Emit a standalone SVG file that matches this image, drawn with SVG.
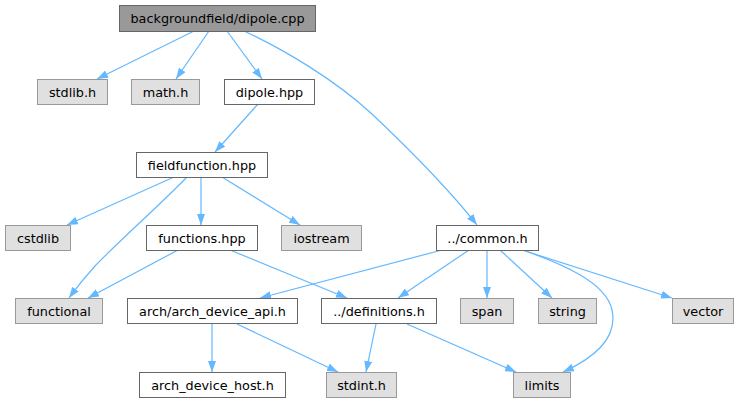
<svg xmlns="http://www.w3.org/2000/svg" width="740" height="403" viewBox="0 0 740 403">
<style>
  .n rect { fill: #ffffff; stroke: #666666; stroke-width: 1; }
  .n.g rect { fill: #e0e0e0; stroke: #999999; }
  .n.r rect { fill: #999999; stroke: #666666; }
  .n text { font-family: "DejaVu Sans", sans-serif; font-size: 12.8px; text-anchor: middle; fill: #000000; }
  #edges path { fill: none; stroke: #63b8ff; stroke-width: 1.2; marker-end: url(#ah); }
</style>
<defs>
  <marker id="ah" markerUnits="userSpaceOnUse" markerWidth="11" markerHeight="8" refX="11" refY="4" orient="auto">
    <path d="M0,0 L11,4 L0,8 z" fill="#63b8ff" stroke="none"/>
  </marker>
</defs>
<rect width="740" height="403" fill="#ffffff"/>
<g id="edges">
  <path d="M194,31 L97,79"/>
  <path d="M209,31 L176,79"/>
  <path d="M227,31 L262,79"/>
  <path d="M244,31 C285,50 335,80 372,114 C410,150 448,188 477,225"/>
  <path d="M258,104 L215,152"/>
  <path d="M174,177 L67,225"/>
  <path d="M187,177 C160,205 120,240 95,266 C85,277 77,287 69,298"/>
  <path d="M201,177 L201,225"/>
  <path d="M222,177 L300,225"/>
  <path d="M178,250 L88,298"/>
  <path d="M230,250 L347,298"/>
  <path d="M442,250 L260,298"/>
  <path d="M469,250 L398,298"/>
  <path d="M487,250 L487,298"/>
  <path d="M500,250 L552,298"/>
  <path d="M522,250 L672,298"/>
  <path d="M523,250 C562,264 606,282 612,310 C618,338 594,358 563,372"/>
  <path d="M212,324 L212,372"/>
  <path d="M237,324 L338,372"/>
  <path d="M376,324 L366,372"/>
  <path d="M407,324 L516,372"/>
</g>
<g id="root" class="n r"><rect x="119.5" y="5.5" width="196" height="26"/><text x="217.5" y="22.5">backgroundfield/dipole.cpp</text></g>
<g id="stdlib" class="n g"><rect x="37.5" y="79.5" width="70" height="25"/><text x="72.5" y="96.5">stdlib.h</text></g>
<g id="math" class="n g"><rect x="131.5" y="79.5" width="68" height="25"/><text x="165.5" y="96.5">math.h</text></g>
<g id="dipole" class="n"><rect x="224.5" y="79.5" width="90" height="25"/><text x="269.5" y="96.5">dipole.hpp</text></g>
<g id="fieldfunction" class="n"><rect x="136.5" y="152.5" width="131" height="25"/><text x="202" y="169.5">fieldfunction.hpp</text></g>
<g id="cstdlib" class="n g"><rect x="5.5" y="225.5" width="65" height="25"/><text x="38" y="242.5">cstdlib</text></g>
<g id="functions" class="n"><rect x="146.5" y="225.5" width="111" height="25"/><text x="202" y="242.5">functions.hpp</text></g>
<g id="iostream" class="n g"><rect x="281.5" y="225.5" width="80" height="25"/><text x="321.5" y="242.5">iostream</text></g>
<g id="common" class="n"><rect x="436.5" y="225.5" width="102" height="25"/><text x="487.5" y="242.5">../common.h</text></g>
<g id="functional" class="n g"><rect x="15.5" y="298.5" width="87" height="25"/><text x="59" y="315.5">functional</text></g>
<g id="arch_device_api" class="n"><rect x="127.5" y="298.5" width="170" height="25"/><text x="212.5" y="315.5">arch/arch_device_api.h</text></g>
<g id="definitions" class="n"><rect x="321.5" y="298.5" width="115" height="25"/><text x="379" y="315.5">../definitions.h</text></g>
<g id="span" class="n g"><rect x="460.5" y="298.5" width="53" height="25"/><text x="487" y="315.5">span</text></g>
<g id="string" class="n g"><rect x="538.5" y="298.5" width="58" height="25"/><text x="567.5" y="315.5">string</text></g>
<g id="vector" class="n g"><rect x="672.5" y="298.5" width="61" height="25"/><text x="703" y="315.5">vector</text></g>
<g id="arch_device_host" class="n"><rect x="139.5" y="372.5" width="146" height="25"/><text x="212.5" y="389.5">arch_device_host.h</text></g>
<g id="stdint" class="n g"><rect x="326.5" y="372.5" width="70" height="25"/><text x="361.5" y="389.5">stdint.h</text></g>
<g id="limits" class="n g"><rect x="513.5" y="372.5" width="57" height="25"/><text x="542" y="389.5">limits</text></g>
</svg>
